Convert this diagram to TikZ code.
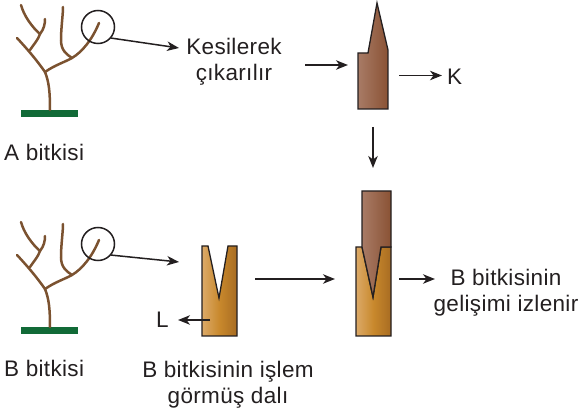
\documentclass[tikz,border=0pt]{standalone}
\usepackage{fontspec}
\setmainfont{Liberation Sans}[LetterSpace=1.5]
\usetikzlibrary{arrows.meta}
\definecolor{ink}{HTML}{231F20}
\definecolor{bark}{HTML}{7B5230}
\definecolor{grass}{HTML}{116A37}
\definecolor{scionL}{HTML}{A87B66}
\definecolor{scionR}{HTML}{8A5234}
\definecolor{stockL}{HTML}{DCAA68}
\definecolor{stockM}{HTML}{C8882C}
\definecolor{stockR}{HTML}{A86C22}
\tikzset{
  lbl/.style={inner sep=0pt, font=\fontsize{22.5}{25.5}\selectfont, text=ink, align=center},
  arr/.style={draw=ink, line width=1.5pt, -{Stealth[length=12pt,width=9.5pt,inset=3.5pt]}},
  branch/.style={draw=bark, line width=2.5pt, line cap=round},
  ring/.style={draw=ink, line width=1.5pt, circle, minimum size=33pt, inner sep=0pt},
  outline/.style={draw=ink, line width=1.3pt, line join=miter},
  scionfill/.style={left color=scionL, right color=scionR},
  stockfill/.style={left color=stockL, right color=stockR, middle color=stockM},
  tree/.pic={
    \fill[grass] (21,110) rectangle (78,117.5);
    \draw[branch] (50,110) .. controls (50,92) and (49,82) .. (45,72);
    \draw[branch] (45,72) .. controls (38,62) and (30,52) .. (17,38);
    \draw[branch] (30,50) .. controls (34,44) and (38,40) .. (40,34);
    \draw[branch] (40,34) .. controls (32,27) and (24,16) .. (21,5);
    \draw[branch] (40,34) .. controls (44,29) and (45,24) .. (45,19);
    \draw[branch] (45,72) .. controls (55,65) and (65,62) .. (72,58);
    \draw[branch] (72,58) .. controls (82,52) and (92,40) .. (99,23);
    \draw[branch] (72,58) .. controls (66,54) and (61,50) .. (61,40) .. controls (61,28) and (63,15) .. (63,7);
  }
}
\begin{document}
\begin{tikzpicture}[x=1pt,y=-1pt]
\useasboundingbox (0,0) rectangle (582,417);
% trees
\pic at (0,0) {tree};
\pic at (0,217) {tree};
\node[ring] (cA) at (98,27) {};
\node[ring] (cB) at (98,244) {};
% labels
\node[lbl, anchor=base west] (labA) at (4,161) {A bitkisi};
\node[lbl, anchor=base west] (labB) at (4,377) {B bitkisi};
\node[lbl, anchor=north] (kes) at (234,38) {Kesilerek\\çıkarılır};
\node[lbl, anchor=base west] (labK) at (447,85) {K};
\node[lbl, anchor=base west] (labL) at (156,328) {L};
\node[lbl, anchor=north] (dal) at (228,361) {B bitkisinin işlem\\görmüş dalı};
\node[lbl, anchor=north] (giz) at (506,269) {B bitkisinin\\gelişimi izlenir};
% cut scion (top)
\path[outline, scionfill] (358,109) -- (358,53) -- (368,53) -- (377,3) -- (388,50) -- (388,109) -- cycle;
% V-cut stock
\path[outline, stockfill] (202,246) -- (208,246) -- (219,298) -- (228,246) -- (237,246) -- (237,336) -- (202,336) -- cycle;
% grafted
\path[outline, stockfill] (356,247) -- (362,247) -- (373,297) -- (381,247) -- (391,247) -- (391,336) -- (356,336) -- cycle;
\path[outline, scionfill] (362,191) -- (391,191) -- (391,247) -- (381,247) -- (373,297) -- (362,247) -- cycle;
% arrow ends
\coordinate (a1) at (179,48);
\coordinate (a2s) at (305,65);
\coordinate (a2e) at (348,65);
\coordinate (a3s) at (399,75.5);
\coordinate (a3e) at (442,75.5);
\coordinate (a4s) at (373,127);
\coordinate (a4e) at (373,168);
\coordinate (a5) at (179,262);
\coordinate (a6s) at (255,279);
\coordinate (a6e) at (335,279);
\coordinate (a7s) at (210,320);
\coordinate (a7e) at (178,320);
\coordinate (a8s) at (399,279);
\coordinate (a8e) at (435,279);
% arrows
\draw[arr] (cA.-40) -- (a1);
\draw[arr] (a2s) -- (a2e);
\draw[arr] (a3s) -- (a3e);
\draw[arr] (a4s) -- (a4e);
\draw[arr] (cB.-40) -- (a5);
\draw[arr] (a6s) -- (a6e);
\draw[arr] (a7s) -- (a7e);
\draw[arr] (a8s) -- (a8e);
\end{tikzpicture}
\end{document}
